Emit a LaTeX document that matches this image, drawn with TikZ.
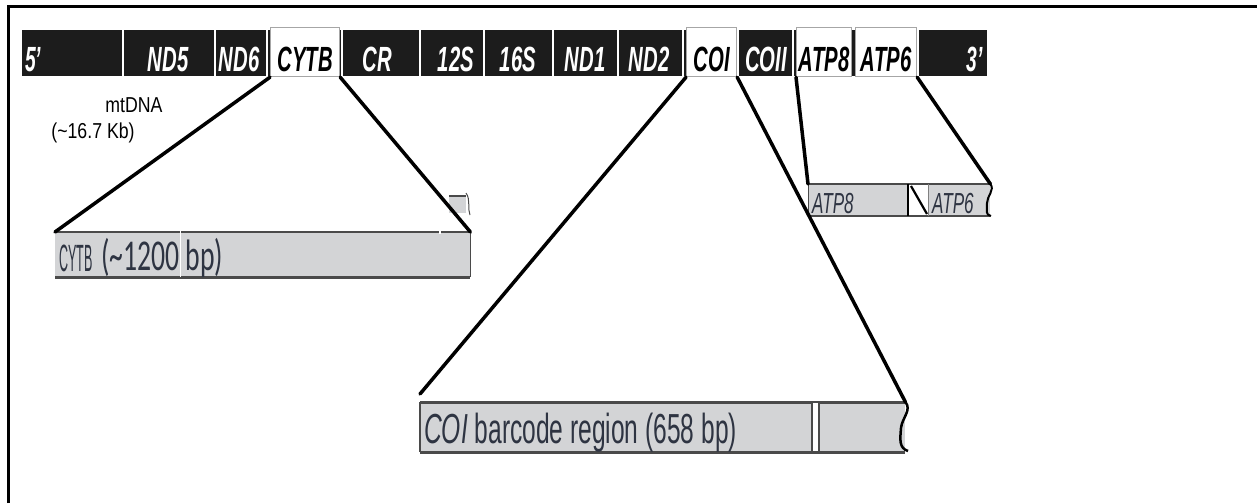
\documentclass[tikz,border=0pt]{standalone}
\usepackage{fontspec}
\setmainfont{Liberation Sans}
\newfontfamily\carl{Carlito}
\usepackage{graphicx}
\definecolor{barblack}{HTML}{1C1C1C}
\definecolor{zgray}{HTML}{D3D4D6}
\definecolor{zedge}{HTML}{4A4A4A}
\definecolor{ztext}{HTML}{2E3442}
\newcommand\hsq[2]{\scalebox{#1}[1]{#2}}
\tikzset{
  barlab/.style={text=white, inner sep=0pt, anchor=base, font=\fontsize{35}{36}\selectfont\bfseries\itshape},
  boxlab/.style={barlab, text=black},
  genebox/.style={draw=gray!70, line width=1.2pt, fill=white, inner sep=0pt, anchor=north west, minimum height=49pt},
  divider/.style={white, line width=2.5pt},
  conn/.style={black, line width=3.5pt, line cap=round},
  zbar/.style={fill=zgray, inner sep=0pt, anchor=north west},
  zedgeline/.style={zedge, line width=2.5pt},
  ztxt/.style={text=ztext, inner sep=0pt, anchor=base west},
}
\begin{document}
\begin{tikzpicture}[x=1pt,y=-1pt]
\useasboundingbox (0,0) rectangle (1257,503);
% frame
\draw[line width=3pt] (8,503) -- (8,7) -- (1257,7);
% mtDNA bar
\node[fill=barblack, inner sep=0pt, anchor=north west, minimum width=965pt, minimum height=46pt] (bar) at (22,30) {};
\foreach \x in {123,215,267,342,420,484,553,618,683,738,793,918}
  \draw[divider] (\x,30) -- (\x,76);
\node[genebox, minimum width=69pt] (cytb) at (270,27) {};
\node[genebox, minimum width=50pt] (coi) at (686,27) {};
\node[genebox, minimum width=55pt] (atp8) at (796,27) {};
\node[genebox, minimum width=61pt] (atp6) at (855,27) {};
% bar labels
\node[barlab, anchor=base west] (l5) at (25,71.5) {\hsq{0.55}{5'}};
\node[barlab] (lnd5) at (168,71.5) {\hsq{0.58}{ND5}};
\node[barlab] (lnd6) at (239,71.5) {\hsq{0.58}{ND6}};
\node[boxlab] (lcytb) at (cytb.center |- 0,71.5) {\hsq{0.58}{CYTB}};
\node[barlab] (lcr) at (377,71.5) {\hsq{0.58}{CR}};
\node[barlab] (l12s) at (456,71.5) {\hsq{0.58}{12S}};
\node[barlab] (l16s) at (518,71.5) {\hsq{0.58}{16S}};
\node[barlab] (lnd1) at (585,71.5) {\hsq{0.58}{ND1}};
\node[barlab] (lnd2) at (649,71.5) {\hsq{0.58}{ND2}};
\node[boxlab] (lcoi) at (coi.center |- 0,71.5) {\hsq{0.58}{COI}};
\node[barlab] (lcoii) at (766,71.5) {\hsq{0.58}{COII}};
\node[boxlab] (latp8) at (atp8.center |- 0,71.5) {\hsq{0.58}{ATP8}};
\node[boxlab] (latp6) at (atp6.center |- 0,71.5) {\hsq{0.58}{ATP6}};
\node[barlab] (l3) at (975,71.5) {\hsq{0.55}{3'}};
% mtDNA caption
\node[inner sep=0pt, anchor=base, font=\fontsize{21.6}{24}\selectfont] (mt) at (134,112) {\hsq{0.82}{mtDNA}};
\node[inner sep=0pt, anchor=base, font=\fontsize{21.6}{24}\selectfont] (kb) at (93,138) {\hsq{0.82}{(\textasciitilde16.7 Kb)}};
% CYTB zoom bar
\node[zbar, minimum width=415pt, minimum height=45pt] (cytbbar) at (55,232) {};
\draw[zedgeline] (cytbbar.north west) -- (cytbbar.north east);
\draw[zedgeline] (cytbbar.south west) -- (cytbbar.south east);
\draw[zedge, line width=1pt] (cytbbar.north east) -- (cytbbar.south east);
\draw[white, line width=1pt] (180,231) -- (180,277);
\draw[white, line width=1.5pt] (440,230.5) -- (440,234);
\node[ztxt, font=\fontsize{38}{40}\selectfont] (cytbname) at (59,271) {\hsq{0.33}{CYTB}};
\node[ztxt, font=\carl\fontsize{44}{46}\selectfont] (cytbsize) at (101,270) {\hsq{0.63}{(\textasciitilde1200 bp)}};
% small stray piece
\fill[zgray] (449,196) rectangle (466,213);
\draw[zedge, line width=1.2pt] (449,196) -- (466,196);
\draw[zedge, line width=1pt] (466,193) .. controls (471,200) and (467,208) .. (470,215);
% ATP zoom bar
\node[zbar, minimum width=182pt, minimum height=32pt] (atpbar) at (808,184) {};
\fill[white] (908,184) rectangle (928,216);
\draw[zedge, line width=2pt] (atpbar.north west) -- (atpbar.north east);
\draw[zedge, line width=2pt] (atpbar.south west) -- (atpbar.south east);
\draw[zedge, line width=1pt] (atpbar.north west) -- (atpbar.south west);
\draw[black, line width=1.5pt] (908,184) -- (908,216);
\draw[gray, line width=0.8pt] (928,184) -- (928,216);
\draw[black, line width=2.2pt] (911,186) -- (927,214);
\draw[black, line width=2pt] (atpbar.north east) .. controls (995,190) and (987,196) .. (987,203) .. controls (987,210) and (985,215) .. (991,216);
\node[ztxt, font=\fontsize{29}{30}\selectfont\itshape] (tatp8) at (812,213) {\hsq{0.59}{ATP8}};
\node[ztxt, font=\fontsize{29}{30}\selectfont\itshape] (tatp6) at (932,213) {\hsq{0.59}{ATP6}};
% COI zoom bar
\node[zbar, minimum width=485pt, minimum height=50pt] (coibar) at (420,402) {};
\draw[zedge, line width=3pt] (coibar.north west) -- (coibar.north east);
\draw[zedge, line width=3pt] (coibar.south west) -- (coibar.south east);
\draw[zedge, line width=1.5pt] (coibar.north west) -- (coibar.south west);
\draw[zedge, fill=white, line width=1.2pt] (812,402) rectangle (819,452);
\draw[black, line width=2.5pt] (coibar.north east) .. controls (912,410) and (902,418) .. (901,428) .. controls (900,440) and (899,448) .. (908,451);
\node[ztxt, font=\fontsize{42}{44}\selectfont] (coitxt) at (424,443) {\hsq{0.585}{\textit{COI} barcode region (658 bp)}};
% connectors
\draw[conn] (cytb.south west) -- (cytbbar.north west);
\draw[conn] (cytb.south east) -- (cytbbar.north east);
\draw[conn] (coi.south west) -- ([yshift=8pt]coibar.north west);
\draw[conn] (coi.south east) -- (coibar.north east);
\draw[conn] (atp8.south west) -- (atpbar.north west);
\draw[conn] (atp6.south east) -- (atpbar.north east);
\end{tikzpicture}
\end{document}
